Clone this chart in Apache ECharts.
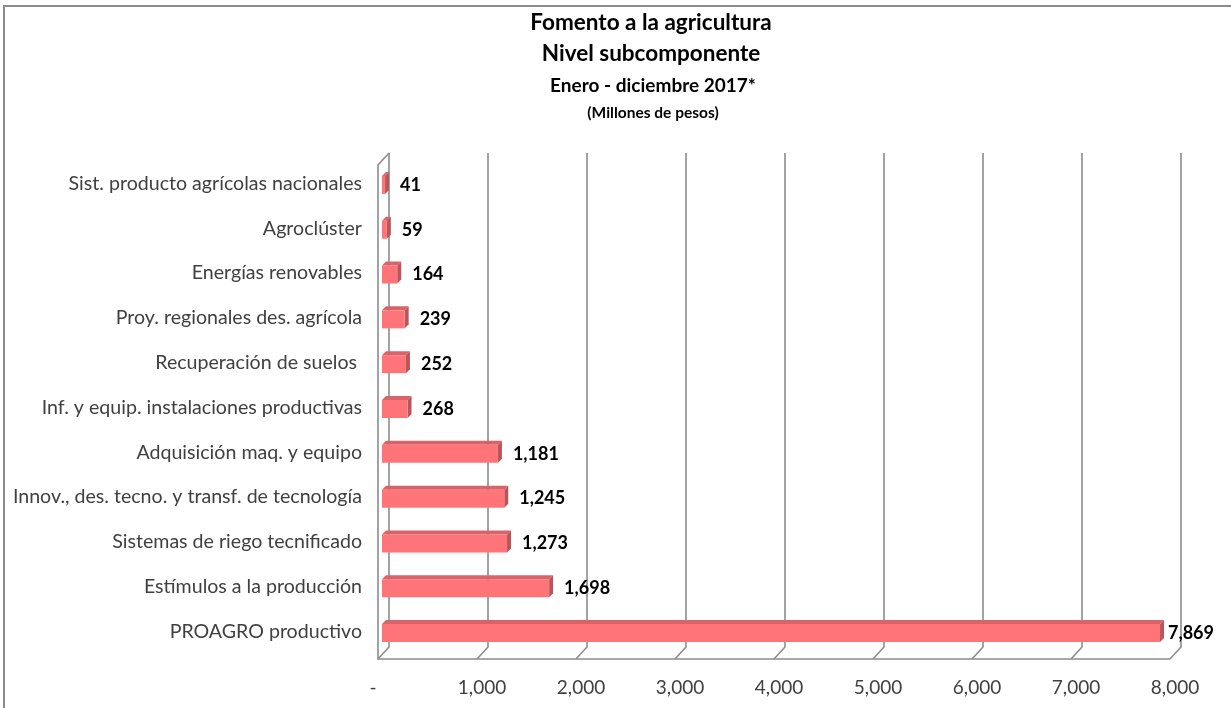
<!DOCTYPE html>
<html>
<head>
<meta charset="utf-8">
<script src="https://cdn.jsdelivr.net/npm/echarts@6/dist/echarts.min.js"></script>
<style>
  html, body { margin: 0; padding: 0; background: #fff; }
  #chart { width: 1231px; height: 708px; }
</style>
</head>
<body>
<div id="chart"></div>
<script>
// datos (de arriba hacia abajo)
const categorias = [
  'Sist. producto agrícolas nacionales',
  'Agroclúster',
  'Energías renovables',
  'Proy. regionales des. agrícola',
  'Recuperación de suelos ',
  'Inf. y equip. instalaciones productivas',
  'Adquisición maq. y equipo',
  'Innov., des. tecno. y transf. de tecnología',
  'Sistemas de riego tecnificado',
  'Estímulos a la producción',
  'PROAGRO productivo'
]
const valores = [41, 59, 164, 239, 252, 268, 1181, 1245, 1273, 1698, 7869]
const ticksX = [0, 1000, 2000, 3000, 4000, 5000, 6000, 7000, 8000]

const fmt = v => v === 0 ? '-' : v.toLocaleString('en-US')
const gris = '#8c8c8c'

// paredes y piso en "3D"
function renderWall(params, api) {
  const cs = params.coordSys
  const top = cs.y, bottom = cs.y + cs.height
  const v = api.value(0)
  const x = api.coord([v, 0])[0]
  const children = [{
    type: 'polyline',
    shape: { points: [[x + 6, top - 8], [x + 6, bottom - 7], [x - 5, bottom + 5]] },
    style: { stroke: gris, lineWidth: 1.6, fill: null }
  }]
  if (v === 0) {
    const xEnd = api.coord([ticksX[ticksX.length - 1], 0])[0]
    children.push({
      type: 'polyline',
      shape: { points: [[x + 6, top - 8], [x - 5, top + 4], [x - 5, bottom + 5], [xEnd - 5, bottom + 5]] },
      style: { stroke: gris, lineWidth: 1.6, fill: null }
    })
  }
  return { type: 'group', children }
}

function renderBar(params, api) {
  const v = api.value(0)
  const idx = api.value(1)
  const p0 = api.coord([0, idx])
  const p1 = api.coord([v, idx])
  const h = 18, d = 4
  const x0 = p0[0] - 1, x1 = Math.max(p1[0] - 2, x0 + 3)
  const y0 = p0[1] - h / 2 + 1.5, y1 = y0 + h
  const gap = v > 5000 ? 4 : 11
  return {
    type: 'group',
    children: [
      { type: 'polygon', shape: { points: [[x0, y0], [x0 + d, y0 - d], [x1 + d, y0 - d], [x1, y0]] },
        style: { fill: '#d8646a' } },
      { type: 'polygon', shape: { points: [[x1, y0], [x1 + d, y0 - d], [x1 + d, y1 - d], [x1, y1]] },
        style: { fill: '#b9565b' } },
      { type: 'rect', shape: { x: x0, y: y0, width: x1 - x0, height: h },
        style: { fill: '#ff7479' } },
      { type: 'text', style: { text: fmt(v), x: x1 + d + gap, y: (y0 + y1) / 2,
        align: 'left', verticalAlign: 'middle', font: 'bold 18px Lato', fill: '#000' } }
    ]
  }
}

const chart = echarts.init(document.getElementById('chart'))
chart.setOption({
  animation: false,
  backgroundColor: '#fff',
  grid: { left: 383, right: 56, top: 161, height: 493, containLabel: false },
  xAxis: {
    type: 'value', min: 0, max: 8000, interval: 1000,
    axisLine: { show: false }, axisTick: { show: false }, splitLine: { show: false },
    axisLabel: {
      formatter: v => v === 0 ? '{d|-}' : fmt(v),
      margin: 24, fontFamily: 'Lato', fontSize: 19, color: '#404040',
      rich: { d: { fontFamily: 'Lato', fontSize: 19, color: '#404040', padding: [0, 20, 0, 0] } }
    }
  },
  yAxis: {
    type: 'category', data: categorias, inverse: true,
    axisLine: { show: false }, axisTick: { show: false },
    axisLabel: { margin: 21, fontFamily: 'Lato', fontSize: 19.6, color: '#404040' }
  },
  graphic: [
    { type: 'polyline', shape: { points: [[4, 708], [4, 6], [1231, 6]] },
      style: { stroke: gris, lineWidth: 2, fill: null } },
    { type: 'text', style: { text: 'Fomento a la agricultura', x: 651, y: 23, align: 'center',
      verticalAlign: 'middle', font: 'bold 22.5px Lato', fill: '#000' } },
    { type: 'text', style: { text: 'Nivel subcomponente', x: 651, y: 54, align: 'center',
      verticalAlign: 'middle', font: 'bold 22.5px Lato', fill: '#000' } },
    { type: 'text', style: { text: 'Enero - diciembre 2017*', x: 653, y: 86, align: 'center',
      verticalAlign: 'middle', font: 'bold 19px Lato', fill: '#000' } },
    { type: 'text', style: { text: '(Millones de pesos)', x: 653, y: 113, align: 'center',
      verticalAlign: 'middle', font: 'bold 15.5px Lato', fill: '#000' } }
  ],
  series: [
    {
      type: 'custom', clip: false, z: 1,
      renderItem: renderWall,
      data: ticksX.map(v => [v, 0])
    },
    {
      type: 'custom', clip: false, z: 2,
      renderItem: renderBar,
      encode: { x: 0, y: 1 },
      data: valores.map((v, i) => [v, i])
    }
  ]
})
</script>
</body>
</html>
